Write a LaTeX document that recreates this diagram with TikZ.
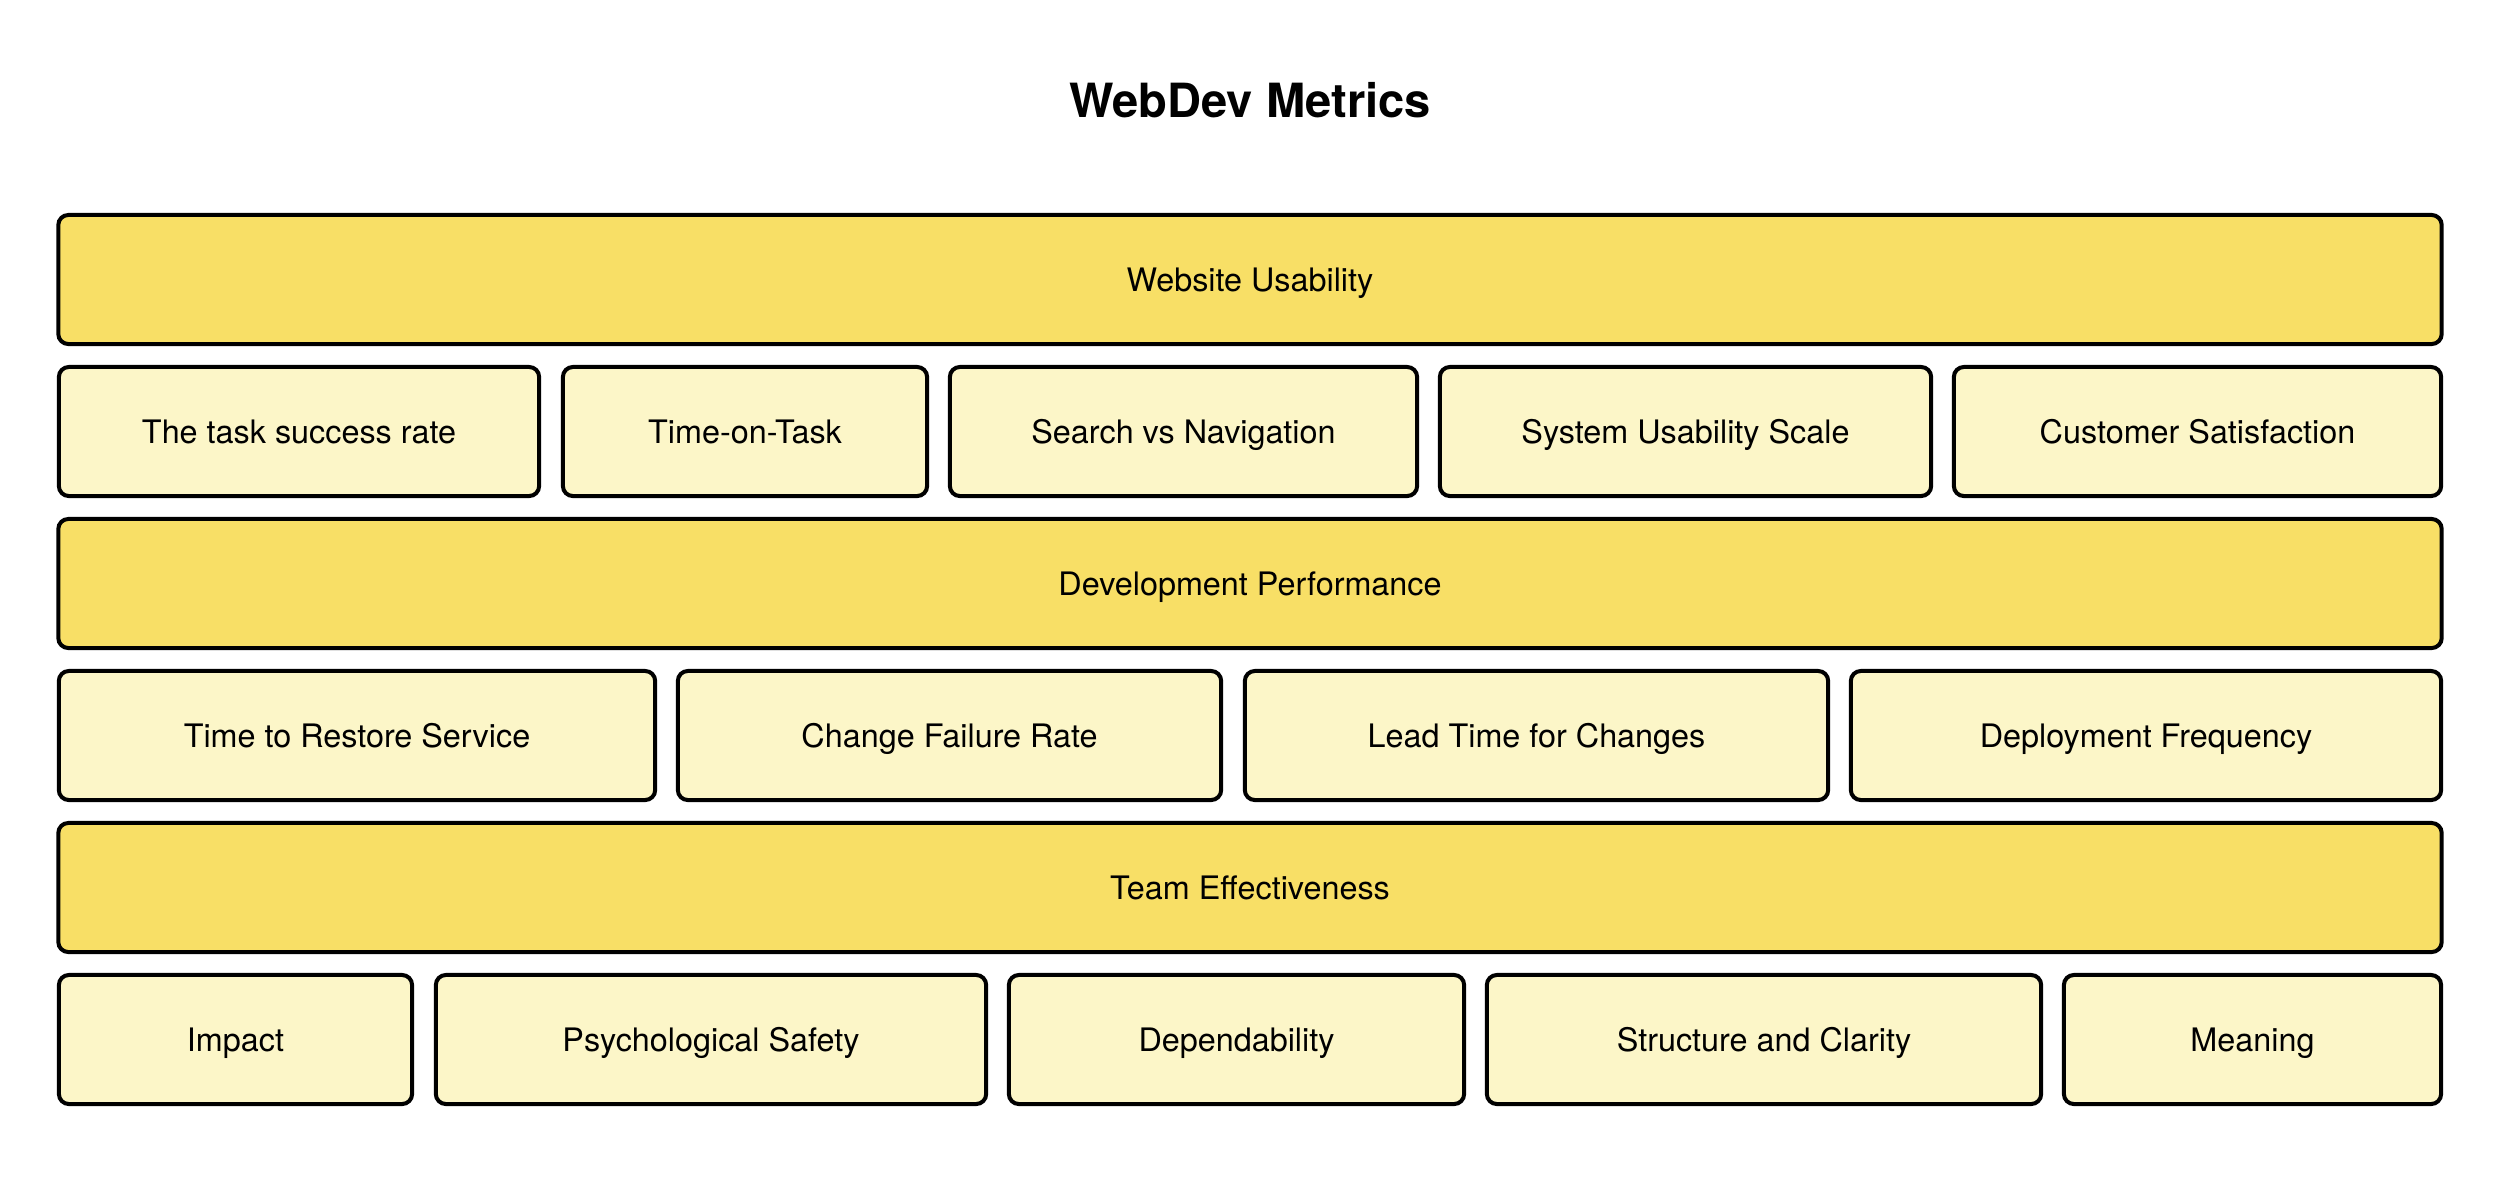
\documentclass[tikz,border=0pt]{standalone}
\usepackage{fontspec}
\setmainfont{TeX Gyre Heros}
\begin{document}
\definecolor{catfill}{HTML}{F8DF66}
\definecolor{metricfill}{HTML}{FCF6C8}
\begin{tikzpicture}[x=0.01cm,y=-0.01cm,
  basebox/.style={draw=black, line width=0.04cm, rounded corners=0.1cm,
    inner sep=0pt, minimum height=1.29cm, text height=6.6pt, text depth=0pt,
    font=\fontsize{9.2pt}{11pt}\selectfont, anchor=center},
  catbox/.style={basebox, fill=catfill},
  metricbox/.style={basebox, fill=metricfill},
  titletext/.style={font=\fontsize{13.4pt}{16pt}\selectfont\bfseries,
    inner sep=0pt, text height=9.6pt, text depth=0pt}]
\fill[white] (0,0) rectangle (2508,1196);
\useasboundingbox (0,0) rectangle (2508,1196);

\node[titletext] (title) at (1250,101) {WebDev Metrics};

% Website Usability
\node[catbox, minimum width=23.82cm] (usability) at (1250,279.5) {Website Usability};
\node[metricbox, minimum width=4.80cm] (tsr) at (299,431.5) {The task success rate};
\node[metricbox, minimum width=3.64cm] (tot) at (745,431.5) {Time-on-Task};
\node[metricbox, minimum width=4.67cm] (svn) at (1183.5,431.5) {Search vs Navigation};
\node[metricbox, minimum width=4.91cm] (sus) at (1685.5,431.5) {System Usability Scale};
\node[metricbox, minimum width=4.87cm] (csat) at (2197.5,431.5) {Customer Satisfaction};

% Development Performance
\node[catbox, minimum width=23.82cm] (devperf) at (1250,583.5) {Development Performance};
\node[metricbox, minimum width=5.96cm] (ttr) at (357,735.5) {Time to Restore Service};
\node[metricbox, minimum width=5.43cm] (cfr) at (949.5,735.5) {Change Failure Rate};
\node[metricbox, minimum width=5.83cm] (ltc) at (1536.5,735.5) {Lead Time for Changes};
\node[metricbox, minimum width=5.90cm] (df) at (2146,735.5) {Deployment Frequency};

% Team Effectiveness
\node[catbox, minimum width=23.82cm] (team) at (1250,887.5) {Team Effectiveness};
\node[metricbox, minimum width=3.53cm] (impact) at (235.5,1039.5) {Impact};
\node[metricbox, minimum width=5.50cm] (psych) at (711,1039.5) {Psychological Safety};
\node[metricbox, minimum width=4.55cm] (dep) at (1236.5,1039.5) {Dependability};
\node[metricbox, minimum width=5.54cm] (struct) at (1764,1039.5) {Structure and Clarity};
\node[metricbox, minimum width=3.77cm] (meaning) at (2252.5,1039.5) {Meaning};
\end{tikzpicture}
\end{document}
